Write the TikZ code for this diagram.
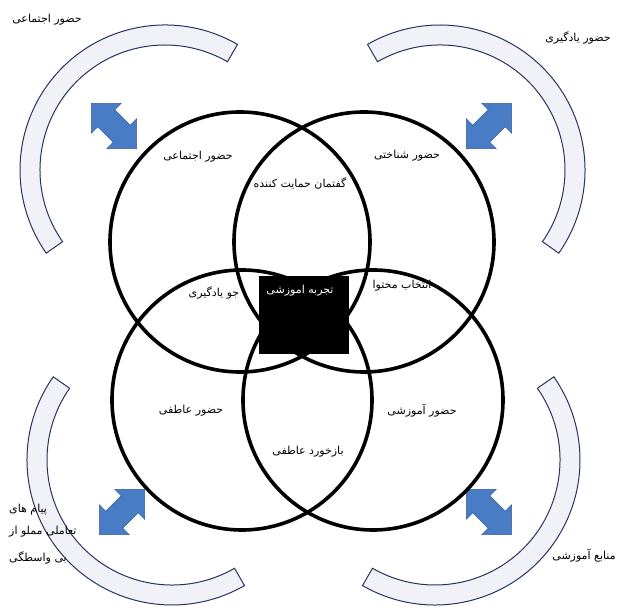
\documentclass[tikz,border=0pt]{standalone}
\usepackage{fontspec}
\newfontfamily\arabicfont[Script=Arabic]{DejaVu Sans}
\TeXXeTstate=1
\definecolor{bandfill}{RGB}{241,242,247}
\definecolor{bandline}{RGB}{38,52,96}
\definecolor{arrowfill}{RGB}{72,124,196}
\definecolor{arrowline}{RGB}{52,90,150}
\newcommand{\farsi}[1]{\beginR #1\endR}
\begin{document}
\begin{tikzpicture}[x=1pt, y=1pt,
    ring/.style={circle, draw=black, line width=3.6pt, minimum size=260pt, inner sep=0pt},
    band/.style={fill=bandfill, draw=bandline, line width=1pt},
    dblarrow/.style={fill=arrowfill, draw=arrowline, line width=0.6pt},
    fa/.style={font=\arabicfont\fontsize{11}{13}\selectfont, inner sep=1pt}]
    \useasboundingbox (0,0) rectangle (634,612);
    % outer bands, one per corner: centre x/y, start and end angle
    \foreach \cx/\cy/\a/\b in {165/442/60/215, 440/442/-35/120, 172/152/145/300, 435/152/-120/35} {
      \filldraw[band] ([shift={(\a:145)}]\cx,\cy) arc[start angle=\a, end angle=\b, radius=145]
        -- ([shift={(\b:125)}]\cx,\cy) arc[start angle=\b, end angle=\a, radius=125] -- cycle;
    }
    % double arrows between bands and circles
    \foreach \cx/\cy/\r in {114/486/-45, 489/486/45, 122/100/45, 489/100/-45} {
      \filldraw[dblarrow, shift={(\cx,\cy)}, rotate=\r] (-32,0) -- (-11,21) -- (-11,12) -- (11,12)
        -- (11,21) -- (32,0) -- (11,-21) -- (11,-12) -- (-11,-12) -- (-11,-21) -- cycle;
    }
    % labels outside
    \node[fa] (social out) at (47,592) {\farsi{حضور اجتماعی}};
    \node[fa] (learning out) at (578,574) {\farsi{حضور یادگیری}};
    \node[fa] (resources) at (584,56) {\farsi{منابع آموزشی}};
    \node[fa, anchor=west] (msg1) at (8,102) {\farsi{پیام های}};
    \node[fa, anchor=west] (msg2) at (8,80) {\farsi{تعاملی مملو از}};
    \node[fa, anchor=west] (msg3) at (8,54) {\farsi{بی واسطگی}};
    % labels inside the circles
    \node[fa] (social) at (198,455) {\farsi{حضور اجتماعی}};
    \node[fa] (discourse) at (300,429) {\farsi{گفتمان حمایت کننده}};
    \node[fa] (cognitive) at (407,456) {\farsi{حضور شناختی}};
    \node[fa] (climate) at (214,319) {\farsi{جو یادگیری}};
    \node[fa] (content) at (402,326) {\farsi{انتخاب محتوا}};
    \node[fa] (emotional) at (191,201) {\farsi{حضور عاطفی}};
    \node[fa] (teaching) at (422,201) {\farsi{حضور آموزشی}};
    \node[fa] (feedback) at (308,160) {\farsi{بازخورد عاطفی}};
    % four circles
    \node[ring] (tl) at (240,370) {};
    \node[ring] (tr) at (364,370) {};
    \node[ring] (bl) at (242,212) {};
    \node[ring] (br) at (373,212) {};
    % core
    \node[fill=black, minimum width=90pt, minimum height=78pt, inner sep=0pt] (core) at (304,297) {};
    \node[fa, text=white] (core label) at (300,321) {\farsi{تجربه اموزشی}};
\end{tikzpicture}
\end{document}
